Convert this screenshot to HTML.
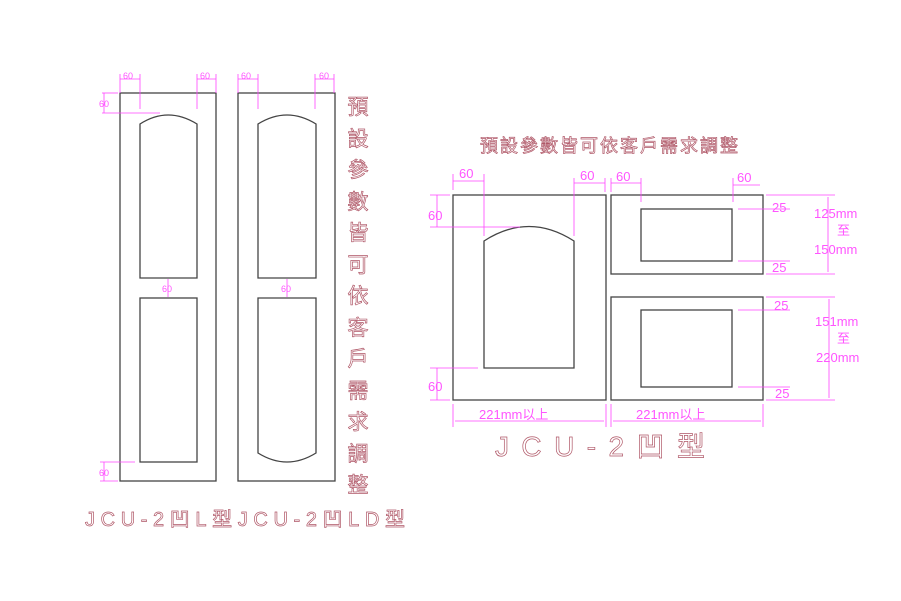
<!DOCTYPE html>
<html><head><meta charset="utf-8"><style>
html,body{margin:0;padding:0;background:#fff;}
svg{display:block}
.k{fill:none;stroke:#444;stroke-width:1.3}
.m{stroke:#ff44ff;stroke-width:0.8;fill:none}
.mt{fill:#ff55ff;font-family:"Liberation Sans",sans-serif}
.ot{fill:#fff;stroke:#b05868;stroke-width:0.7;font-family:"Liberation Sans","Noto Sans CJK TC",sans-serif}
</style></head><body>
<svg width="901" height="601" viewBox="0 0 901 601" xmlns="http://www.w3.org/2000/svg">
<!-- Door 1 -->
<rect class="k" x="120" y="93" width="96" height="388"/>
<path class="k" d="M140,278 L140,124 Q168,106 197,124 L197,278 Z"/>
<rect class="k" x="140" y="298" width="57" height="164"/>
<!-- Door 2 -->
<rect class="k" x="238" y="93" width="97" height="388"/>
<path class="k" d="M258,278 L258,124 Q287,106 316,124 L316,278 Z"/>
<path class="k" d="M258,298 L316,298 L316,453 Q287,471 258,453 Z"/>
<g class="m">
<line x1="120" y1="79" x2="140" y2="79"/><line x1="120" y1="74" x2="120" y2="93"/><line x1="140" y1="74" x2="140" y2="109"/>
<line x1="197" y1="79" x2="216" y2="79"/><line x1="197" y1="74" x2="197" y2="109"/><line x1="216" y1="74" x2="216" y2="93"/>
<line x1="238" y1="79" x2="258" y2="79"/><line x1="238" y1="74" x2="238" y2="93"/><line x1="258" y1="74" x2="258" y2="109"/>
<line x1="315" y1="79" x2="334" y2="79"/><line x1="315" y1="74" x2="315" y2="109"/><line x1="334" y1="74" x2="334" y2="93"/>
<line x1="102" y1="93" x2="118" y2="93"/><line x1="102" y1="113" x2="160" y2="113"/><line x1="104" y1="93" x2="104" y2="113"/>
<line x1="168" y1="279" x2="168" y2="297"/><line x1="287" y1="279" x2="287" y2="297"/>
<line x1="100" y1="462" x2="135" y2="462"/><line x1="100" y1="481" x2="118" y2="481"/><line x1="104" y1="462" x2="104" y2="481"/>
</g>
<g class="mt" font-size="9">
<text x="123" y="79">60</text><text x="200" y="79">60</text><text x="241" y="79">60</text><text x="319" y="79">60</text>
<text x="99" y="107">60</text><text x="162" y="292">60</text><text x="281" y="292">60</text><text x="99" y="476">60</text>
</g>
<g class="ot" font-size="21" text-anchor="middle">
<text x="358" y="114">預</text><text x="358" y="146">設</text><text x="358" y="177">參</text><text x="358" y="209">數</text>
<text x="358" y="240">皆</text><text x="358" y="272">可</text><text x="358" y="303">依</text><text x="358" y="335">客</text>
<text x="358" y="366">戶</text><text x="358" y="398">需</text><text x="358" y="429">求</text><text x="358" y="461">調</text>
<text x="358" y="492">整</text>
</g>
<text class="ot" x="85" y="526" font-size="20" textLength="320" lengthAdjust="spacing">JCU-2凹L型JCU-2凹LD型</text>
<!-- right side -->
<text class="ot" x="480" y="152" font-size="18" textLength="258" lengthAdjust="spacing">預設參數皆可依客戶需求調整</text>
<rect class="k" x="453" y="195" width="153" height="205"/>
<path class="k" d="M484,368 L484,241 Q529,212 574,241 L574,368 Z"/>
<rect class="k" x="611" y="195" width="152" height="79"/>
<rect class="k" x="641" y="209" width="91" height="52"/>
<rect class="k" x="611" y="297" width="152" height="103"/>
<rect class="k" x="641" y="310" width="91" height="77"/>
<g class="m">
<line x1="453" y1="181" x2="484" y2="181"/><line x1="453" y1="174" x2="453" y2="190"/><line x1="484" y1="174" x2="484" y2="236"/>
<line x1="574" y1="183" x2="605" y2="183"/><line x1="574" y1="178" x2="574" y2="236"/><line x1="605" y1="178" x2="605" y2="192"/>
<line x1="611" y1="183" x2="641" y2="183"/><line x1="611" y1="178" x2="611" y2="192"/><line x1="641" y1="178" x2="641" y2="202"/>
<line x1="733" y1="185" x2="760" y2="185"/><line x1="733" y1="178" x2="733" y2="202"/>
<line x1="430" y1="195" x2="450" y2="195"/><line x1="430" y1="227" x2="520" y2="227"/><line x1="437" y1="195" x2="437" y2="227"/>
<line x1="430" y1="368" x2="478" y2="368"/><line x1="430" y1="400" x2="450" y2="400"/><line x1="437" y1="368" x2="437" y2="400"/>
<line x1="453" y1="404" x2="453" y2="427"/><line x1="606" y1="404" x2="606" y2="427"/><line x1="455" y1="421" x2="604" y2="421"/>
<line x1="611" y1="404" x2="611" y2="427"/><line x1="763" y1="404" x2="763" y2="427"/><line x1="613" y1="421" x2="761" y2="421"/>
<line x1="766" y1="195" x2="835" y2="195"/><line x1="738" y1="209" x2="790" y2="209"/><line x1="738" y1="261" x2="790" y2="261"/><line x1="766" y1="274" x2="835" y2="274"/>
<line x1="828" y1="197" x2="828" y2="272"/>
<line x1="766" y1="297" x2="835" y2="297"/><line x1="738" y1="310" x2="790" y2="310"/><line x1="738" y1="387" x2="790" y2="387"/><line x1="766" y1="400" x2="835" y2="400"/>
<line x1="829" y1="299" x2="829" y2="398"/>
</g>
<g class="mt" font-size="13">
<text x="459" y="178">60</text><text x="580" y="180">60</text><text x="616" y="181">60</text><text x="737" y="182">60</text>
<text x="428" y="220">60</text><text x="428" y="391">60</text>
<text x="479" y="419">221mm以上</text><text x="636" y="419">221mm以上</text>
<text x="772" y="212">25</text><text x="772" y="272">25</text><text x="774" y="310">25</text><text x="775" y="398">25</text>
<text x="814" y="218">125mm</text><text x="837" y="235" font-family="Liberation Sans,'Noto Sans CJK TC',sans-serif">至</text><text x="814" y="254">150mm</text>
<text x="815" y="326">151mm</text><text x="837" y="343" font-family="Liberation Sans,'Noto Sans CJK TC',sans-serif">至</text><text x="816" y="362">220mm</text>
</g>
<text class="ot" x="495" y="456" font-size="28" textLength="210" lengthAdjust="spacing">JCU-2凹型</text>
</svg>
</body></html>
